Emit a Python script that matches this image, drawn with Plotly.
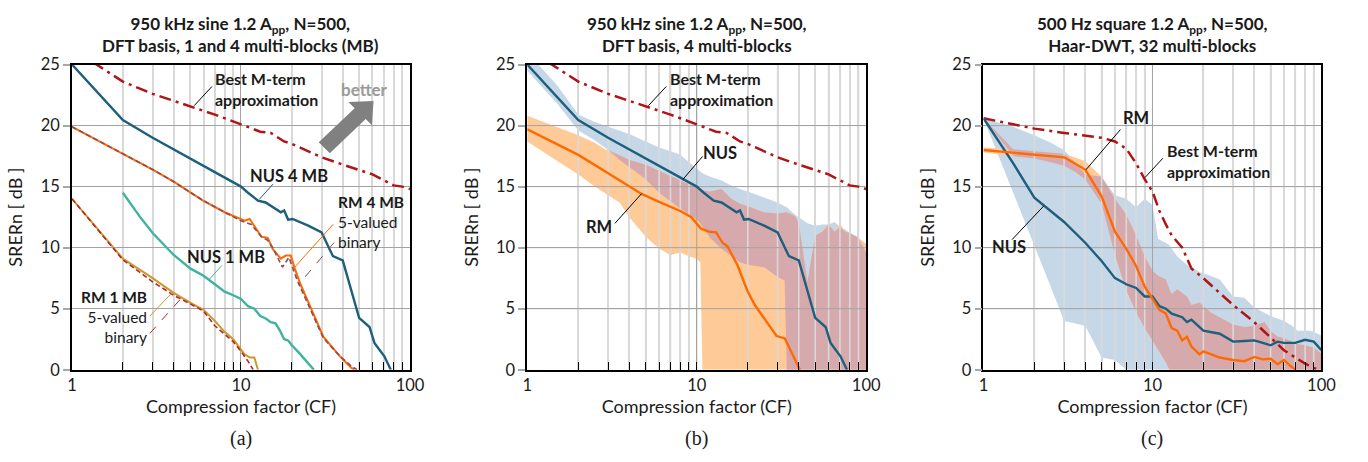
import numpy as np
import plotly.graph_objects as go

W, H = 1368, 462
FONT = "Lato"

# ---------------- data ----------------
X_MAJOR = [1, 10, 100]
X_MAJOR_TEXT = ["1", "10", "100"]
Y_TICKS = [0, 5, 10, 15, 20, 25]

# Panel (a) / (b): best M-term approximation (DFT, sine)
CF_BEST_SINE = [1, 2, 3, 5, 7, 10, 13, 15, 18, 20, 30, 40, 60, 80, 90, 100]
DB_BEST_SINE = [26.3, 23.6, 22.6, 21.6, 20.9, 20.1, 19.5, 19.4, 18.7, 18.5, 17.4, 16.8, 16.0, 15.1, 15.0, 14.8]

# NUS 4 MB (a) = NUS (b)
CF_NUS4 = [1, 2, 3, 5, 7, 10, 11, 12.6, 14, 15.4, 17.2, 18, 19, 20.2, 25, 30, 35, 40, 45, 50, 57.6, 61.6, 70.5, 75.5, 77]
DB_NUS4 = [25.0, 20.45, 19.0, 17.3, 16.2, 15.0, 14.5, 13.85, 13.7, 13.3, 12.9, 13.05, 12.3, 12.35, 11.8, 11.25, 9.3, 8.95, 6.5, 4.25, 3.5, 2.2, 1.1, 0.2, 0.0]

# NUS 1 MB (a)
CF_NUS1 = [2, 2.5, 3, 3.5, 4, 5, 6, 7, 8, 9, 10, 11, 12, 13, 14, 15, 16, 17, 18, 19, 20, 22, 24, 27]
DB_NUS1 = [14.5, 12.6, 11.2, 10.2, 9.4, 8.3, 7.7, 7.0, 6.4, 6.1, 5.8, 5.2, 5.0, 4.4, 4.2, 3.9, 3.8, 3.2, 2.5, 2.4, 2.0, 1.4, 0.8, 0.0]

# RM 4 MB (a): 5-valued and binary
CF_RM4_5 = [1, 2, 3, 4, 5.9, 8, 10, 10.5, 11.25, 13.2, 14.4, 15.4, 17.2, 18.4, 19.7, 20.8, 22.5, 25.7, 30.7, 38.5, 45, 47]
DB_RM4_5 = [19.9, 17.7, 16.4, 15.4, 13.9, 12.9, 12.3, 12.2, 12.35, 10.9, 10.8, 9.9, 9.1, 9.35, 9.35, 8.3, 7.0, 5.2, 2.7, 1.1, 0.15, 0.0]
CF_RM4_B = [1, 2, 3, 4, 5.9, 8, 10, 11.5, 13.2, 14.4, 15.4, 17.6, 19.2, 21.6, 25.7, 30.7, 38.5, 45, 48.5]
DB_RM4_B = [19.9, 17.7, 16.4, 15.4, 13.9, 12.9, 12.2, 11.9, 10.9, 10.6, 10.0, 8.4, 9.2, 7.26, 5.0, 2.6, 1.1, 0.3, 0.0]

# RM 1 MB (a): 5-valued and binary
CF_RM1_5 = [1, 2, 3, 4, 5, 6, 7, 8, 9, 10, 10.5, 11.3, 12.0, 12.6]
DB_RM1_5 = [14.0, 9.1, 7.5, 6.3, 5.5, 4.9, 4.0, 3.1, 2.5, 1.7, 1.25, 1.0, 1.0, 0.0]
CF_RM1_B = [1, 2, 3, 4, 5, 6, 7, 8, 9, 10, 11, 11.8]
DB_RM1_B = [14.0, 9.0, 7.2, 6.1, 5.4, 4.8, 3.6, 2.9, 2.3, 1.5, 0.7, 0.0]

# Panel (b): RM 4 multi-blocks
CF_RM_B = [1, 2, 3, 4.73, 6, 8, 9.3, 10.6, 11.9, 13.0, 14.2, 15.2, 17.4, 19.9, 22, 25.9, 29.6, 33.1, 36, 40.6]
DB_RM_B = [19.7, 17.6, 16.1, 14.4, 13.75, 13.0, 12.5, 11.55, 11.3, 11.25, 10.4, 10.1, 8.56, 6.47, 5.3, 3.86, 2.76, 2.56, 1.5, 0.0]

# Panel (b): spread bands (common CF grid)
CF_BAND_B = [1, 1.5, 2, 2.5, 3, 3.5, 4, 5, 6, 7, 8, 9, 10, 10.5, 10.8, 12, 14, 16, 18, 20, 25, 30, 33, 34,
             38, 40, 45, 50, 55, 60, 65, 70, 75, 80, 90, 100]
NUS_HI_B = [26.0, 23.3, 20.9, 20.3, 19.9, 19.6, 19.3, 18.7, 18.2, 17.9, 17.6, 17.0, 16.5, 16.3, 16.1, 15.8, 15.5, 15.1,
            14.8, 14.6, 14.1, 13.7, 13.4, 13.3, 12.7, 12.5, 12.0, 11.8, 11.9, 11.9, 12.1, 11.7, 11.5, 11.2, 10.9, 9.6]
NUS_LO_B = [24.5, 21.8, 19.6, 18.8, 18.0, 17.2, 16.6, 15.6, 14.5, 13.8, 13.2, 12.7, 12.3, 12.0, 11.8, 10.8, 9.9, 9.3,
            8.8, 8.6, 8.4, 7.6, 7.3, 0, 0, 0, 0, 0, 0, 0, 0, 0, 0, 0, 0, 0]
RM_HI_B = [20.8, 19.9, 19.2, 18.6, 17.9, 17.6, 17.2, 16.8, 16.3, 15.9, 15.5, 15.2, 14.9, 14.8, 14.7, 14.6, 14.8, 14.0,
           13.6, 13.4, 12.9, 12.8, 12.9, 12.9, 12.6, 12.0, 7.2, 11.0, 11.3, 12.0, 11.3, 12.0, 11.3, 11.2, 10.8, 10.3]
RM_LO_B = [18.7, 17.1, 16.0, 15.0, 14.3, 13.7, 12.5, 10.9, 9.9, 9.4, 9.6, 9.3, 9.1, 8.8, 0, 0, 0, 0,
           0, 0, 0, 0, 0, 0, 0, 0, 0, 0, 0, 0, 0, 0, 0, 0, 0, 0]

# Panel (c): Haar-DWT, square wave
CF_BEST_SQ = [1, 2, 3, 4, 5, 6, 7, 8, 9, 10, 11, 12, 13, 15, 17, 20, 25, 30, 40, 50, 60, 70, 80, 90, 100]
DB_BEST_SQ = [20.6, 19.75, 19.4, 19.2, 19.0, 18.7, 18.1, 16.9, 15.6, 14.6, 13.0, 11.9, 11.0, 10.0, 8.3, 7.5, 6.3, 5.3,
              3.9, 2.6, 1.6, 1.0, 0.5, 0.15, -0.1]
CF_NUS_C = [1, 1.5, 2, 3, 4, 5, 6, 7, 8, 9, 10, 11, 12, 13, 15, 16, 17, 18, 20, 25, 30, 35, 40, 45, 50, 55, 60, 70,
            80, 90, 100]
DB_NUS_C = [20.6, 16.9, 14.1, 12.1, 10.4, 8.9, 7.5, 7.0, 6.7, 6.0, 6.0, 5.2, 5.0, 4.6, 4.3, 3.9, 4.1, 3.8, 3.2, 2.95,
            2.3, 2.35, 2.4, 2.2, 2.0, 2.3, 2.2, 2.2, 2.45, 2.3, 1.6]
CF_RM_C = [1, 2, 3, 4, 5, 6, 7, 8, 9, 10, 11, 12, 13, 14, 15, 16, 17, 19, 20, 25, 30, 35, 40, 45, 50, 55, 60, 65, 70]
DB_RM_C = [18.0, 17.6, 17.4, 16.4, 14.2, 11.3, 9.9, 8.5, 6.8, 5.8, 4.9, 4.6, 3.4, 3.2, 2.4, 2.7, 1.9, 1.25, 1.5, 1.0,
           0.8, 0.7, 1.05, 0.85, 0.9, 0.45, 0.8, 0.35, 0.0]

CF_BAND_C = [1, 1.5, 2, 2.5, 3, 3.5, 4, 5, 6, 7, 8, 9, 10, 10.8, 12, 12.6, 13, 14, 16, 17, 19, 22, 25, 30, 35, 40,
             46, 50, 55, 60, 67, 72, 80, 86, 90, 100]
NUS_HI_C = [20.6, 19.9, 19.2, 18.6, 18.0, 17.0, 16.0, 15.8, 14.3, 14.0, 13.3, 14.0, 13.5, 10.7, 10.4, 10.2, 9.9, 9.3,
            8.6, 8.4, 8.0, 7.7, 7.4, 6.0, 5.9, 5.1, 4.7, 4.4, 4.2, 4.0, 3.6, 3.2, 3.2, 3.2, 3.1, 2.8]
NUS_LO_C = [20.6, 14.5, 10.2, 6.8, 4.0, 3.8, 3.6, 1.0, 0.8, 0, 0, 0, 0, 0, 0, 0, 0, 0,
            0, 0, 0, 0, 0, 0, 0, 0, 0, 0, 0, 0, 0, 0, 0, 0, 0, 0]
RM_HI_C = [18.2, 18.05, 17.9, 17.8, 17.7, 17.4, 17.1, 15.8, 14.0, 12.7, 11.0, 9.3, 8.1, 7.7, 7.4, 6.6, 6.2, 6.6,
           6.0, 5.3, 5.5, 4.7, 4.3, 3.7, 3.5, 3.6, 3.9, 3.2, 2.7, 2.6, 2.3, 2.1, 2.0, 1.9, 1.8, 1.3]
RM_LO_C = [17.8, 17.5, 17.3, 17.0, 16.7, 16.2, 15.6, 13.6, 9.4, 6.5, 4.7, 3.4, 2.4, 1.7, 0.6, 0, 0, 0,
           0, 0, 0, 0, 0, 0, 0, 0, 0, 0, 0, 0, 0, 0, 0, 0, 0, 0]

# ---------------- styles ----------------
C_BEST = "#b01515"
C_NUS = "#1d5f7c"
C_NUS1 = "#3fb39e"
C_RM = "#ff6a00"
C_RMB = "#8c4c58"
C_RM1 = "#c99a2e"
C_RM1B = "#b8262a"
C_BLUE = "#c6d7e8"
C_ORANGE = "#fdca98"
C_MAUVE = "#d6a9ad"
C_MINOR = "#d9d9d9"
C_MAJOR = "#a3a3a3"
C_TEXT = "#1a1a1a"
DASHDOT = "12px,5px,3px,5px"

PLOT_X = [(68, 411), (530, 874), (993, 1336)]
PLOT_Y = (57, 376)


def P(x, y):
    return x / W, 1 - y / H


fig = go.Figure()


def line(ax, x, y, color, width=2.4, dash="solid"):
    fig.add_trace(go.Scatter(x=x, y=y, mode="lines", xaxis="x" + ax, yaxis="y" + ax,
                             line=dict(color=color, width=width, dash=dash), hoverinfo="skip",
                             showlegend=False))


def band(ax, cf, hi, lo, color):
    cf = list(cf)
    fig.add_trace(go.Scatter(x=cf + cf[::-1], y=list(hi) + list(lo)[::-1], mode="lines", fill="toself",
                             fillcolor=color, line=dict(width=0), xaxis="x" + ax, yaxis="y" + ax,
                             hoverinfo="skip", showlegend=False))


def overlap(ax, cf, hi1, lo1, hi2, lo2, color):
    hi = np.minimum(np.array(hi1), np.array(hi2))
    lo = np.maximum(np.array(lo1), np.array(lo2))
    hi = np.where(hi < lo, lo, hi)
    band(ax, cf, hi, lo, color)


MINOR_X = [k * 10 ** d for d in range(0, 2) for k in range(2, 10)]


def grid_overlay(ax):
    xs, ys = [], []
    for v in MINOR_X:
        xs += [v, v, None]
        ys += [Y_TICKS[0], Y_TICKS[-1], None]
    fig.add_trace(go.Scatter(x=xs, y=ys, mode="lines", line=dict(color=C_MINOR, width=1.6),
                             xaxis="x" + ax, yaxis="y" + ax, hoverinfo="skip", showlegend=False))
    xs, ys = [], []
    for v in X_MAJOR[1:-1]:
        xs += [v, v, None]
        ys += [Y_TICKS[0], Y_TICKS[-1], None]
    for t in Y_TICKS[1:-1]:
        xs += [X_MAJOR[0], X_MAJOR[-1], None]
        ys += [t, t, None]
    fig.add_trace(go.Scatter(x=xs, y=ys, mode="lines", line=dict(color=C_MAJOR, width=1),
                             xaxis="x" + ax, yaxis="y" + ax, hoverinfo="skip", showlegend=False))


# ---- panel (a) ----
A = ""
line(A, CF_BEST_SINE, DB_BEST_SINE, C_BEST, 2.5, DASHDOT)
line(A, CF_NUS4, DB_NUS4, C_NUS, 2.4)
line(A, CF_NUS1, DB_NUS1, C_NUS1, 2.4)
line(A, CF_RM4_5, DB_RM4_5, C_RM, 2.0)
line(A, CF_RM4_B, DB_RM4_B, C_RMB, 1.6, "5px,3px")
line(A, CF_RM1_5, DB_RM1_5, C_RM1, 2.0)
line(A, CF_RM1_B, DB_RM1_B, C_RM1B, 1.6, "5px,3px")

# ---- panel (b) ----
B = "2"
band(B, CF_BAND_B, NUS_HI_B, NUS_LO_B, C_BLUE)
band(B, CF_BAND_B, RM_HI_B, RM_LO_B, C_ORANGE)
overlap(B, CF_BAND_B, NUS_HI_B, NUS_LO_B, RM_HI_B, RM_LO_B, C_MAUVE)
grid_overlay(B)
line(B, CF_BEST_SINE, DB_BEST_SINE, C_BEST, 2.5, DASHDOT)
line(B, CF_NUS4, DB_NUS4, C_NUS, 2.4)
line(B, CF_RM_B, DB_RM_B, C_RM, 2.4)

# ---- panel (c) ----
Cc = "3"
band(Cc, CF_BAND_C, NUS_HI_C, NUS_LO_C, C_BLUE)
band(Cc, CF_BAND_C, RM_HI_C, RM_LO_C, C_ORANGE)
overlap(Cc, CF_BAND_C, NUS_HI_C, NUS_LO_C, RM_HI_C, RM_LO_C, C_MAUVE)
grid_overlay(Cc)
line(Cc, CF_BEST_SQ, DB_BEST_SQ, C_BEST, 2.5, DASHDOT)
line(Cc, CF_NUS_C, DB_NUS_C, C_NUS, 2.4)
line(Cc, CF_RM_C, DB_RM_C, C_RM, 2.4)

# ---------------- axes ----------------
layout = dict(width=W, height=H, margin=dict(l=0, r=0, t=0, b=0), paper_bgcolor="white",
              plot_bgcolor="white", showlegend=False, font=dict(family=FONT, color=C_TEXT, size=16))
suffixes = ["", "2", "3"]
for i, s in enumerate(suffixes):
    x0, x1 = PLOT_X[i]
    xa = dict(type="log", range=[0, 2], domain=[x0 / W, x1 / W], anchor="y" + s,
              showline=True, linecolor="black", linewidth=1.8, mirror=True,
              tickmode="array", tickvals=X_MAJOR, ticktext=X_MAJOR_TEXT,
              ticks="inside", ticklen=8, tickcolor="black", tickwidth=1,
              showgrid=True, gridcolor=C_MAJOR, gridwidth=1,
              minor=dict(tickmode="array", tickvals=MINOR_X, ticks="inside", ticklen=8, tickcolor="black",
                         tickwidth=1, showgrid=True, gridcolor=C_MINOR, gridwidth=1.6),
              tickfont=dict(size=16.5, family=FONT, color=C_TEXT), zeroline=False,
              title=dict(text="Compression factor (CF)", font=dict(size=18, family=FONT, color=C_TEXT),
                         standoff=6))
    ya = dict(range=[0, 25], domain=[1 - PLOT_Y[1] / H, 1 - PLOT_Y[0] / H], anchor="x" + s,
              showline=True, linecolor="black", linewidth=1.8, mirror=True,
              tickmode="array", tickvals=Y_TICKS, ticks="outside", ticklen=7, tickcolor="#a8a8a8",
              tickwidth=1.5,
              showgrid=True, gridcolor=C_MAJOR, gridwidth=1, zeroline=False,
              tickfont=dict(size=16.5, family=FONT, color=C_TEXT),
              title=dict(text="SRERn [ dB ]", font=dict(size=18, family=FONT, color=C_TEXT), standoff=13))
    layout["xaxis" + s] = xa
    layout["yaxis" + s] = ya
fig.update_layout(**layout)

# ---------------- annotations ----------------
anns = []
shapes = []


def text(x, y, t, size=16.5, xanchor="center", bold=False, color=C_TEXT, family=FONT, align=None):
    px, py = P(x, y)
    if bold:
        t = "<b>" + t + "</b>"
    anns.append(dict(x=px, y=py, xref="paper", yref="paper", text=t, showarrow=False, xanchor=xanchor,
                     yanchor="middle", align=align or xanchor,
                     font=dict(size=size, color=color, family=family)))


def leader(x0, y0, x1, y1, color="black", width=1, dash="solid"):
    a0, b0 = P(x0, y0)
    a1, b1 = P(x1, y1)
    shapes.append(dict(type="line", xref="paper", yref="paper", x0=a0, y0=b0, x1=a1, y1=b1,
                       line=dict(color=color, width=width, dash=dash)))


def block_arrow(tail, tip, shaft_hw, head_hw, head_len, color):
    t = np.array(tail, float)
    h = np.array(tip, float)
    d = (h - t) / np.linalg.norm(h - t)
    n = np.array([-d[1], d[0]])
    neck = h - d * head_len
    pts = [t + n * shaft_hw, neck + n * shaft_hw, neck + n * head_hw, h,
           neck - n * head_hw, neck - n * shaft_hw, t - n * shaft_hw]
    path = ""
    for k, p in enumerate(pts):
        a, b = P(p[0], p[1])
        path += ("M" if k == 0 else "L") + f"{a:.5f},{b:.5f} "
    shapes.append(dict(type="path", xref="paper", yref="paper", path=path + "Z", fillcolor=color,
                       line=dict(width=0)))


TITLES = ["950 kHz sine 1.2 A<sub>pp</sub>, N=500,<br>DFT basis, 1 and 4 multi-blocks (MB)",
          "950 kHz sine 1.2 A<sub>pp</sub>, N=500,<br>DFT basis, 4 multi-blocks",
          "500 Hz square 1.2 A<sub>pp</sub>, N=500,<br>Haar-DWT, 32 multi-blocks"]
PANEL_LABELS = ["(a)", "(b)", "(c)"]
for i in range(3):
    cx = (PLOT_X[i][0] + PLOT_X[i][1]) / 2
    text(cx, 26, TITLES[i], size=17, bold=True, align="center")
    text(cx, 448, PANEL_LABELS[i], size=20, family="Liberation Serif")

LS = 16.5
BM = "Best M-term<br>approximation"
# panel (a) labels
text(211, 83, BM, size=16, xanchor="left", bold=True)
leader(192, 100, 210, 80)
text(365, 83, "better", size=17, bold=True, color="#9a9a9a")
block_arrow((324, 144), (374, 95), 8, 17, 19, "#808080")
text(288, 173, "NUS 4 MB", size=LS, bold=True)
leader(258, 198, 272, 182, C_NUS)
text(336, 222, "<b>RM 4 MB</b><br>5-valued<br>binary", size=15.5, xanchor="left")
leader(333, 224, 293, 270, C_RM)
leader(334, 243, 298, 287, C_RMB, 1, "dash")
text(224, 258, "NUS 1 MB", size=LS, bold=True)
leader(220, 267, 207, 282, C_NUS1)
text(146, 321, "<b>RM 1 MB</b><br>5-valued<br>binary", size=15.5, xanchor="right")
leader(147, 320, 170, 295, C_RM1)
leader(147, 338, 180, 300, C_RM1B, 1, "dash")

# panel (b) labels
text(673, 83, BM, size=16, xanchor="left", bold=True)
leader(653, 100, 671, 80)
text(726, 149, "NUS", size=LS, bold=True)
leader(688, 177, 708, 153)
text(603, 227, "RM", size=LS, bold=True)
leader(619, 223, 646, 192)

# panel (c) labels
text(1148, 113, "RM", size=LS, bold=True)
leader(1132, 125, 1097, 167)
text(1177, 158, BM, size=16, xanchor="left", bold=True)
leader(1175, 155, 1157, 175)
text(1019, 248, "NUS", size=LS, bold=True)
leader(1022, 240, 1054, 205)

fig.update_layout(annotations=anns, shapes=shapes)
fig.write_html("out.html")
